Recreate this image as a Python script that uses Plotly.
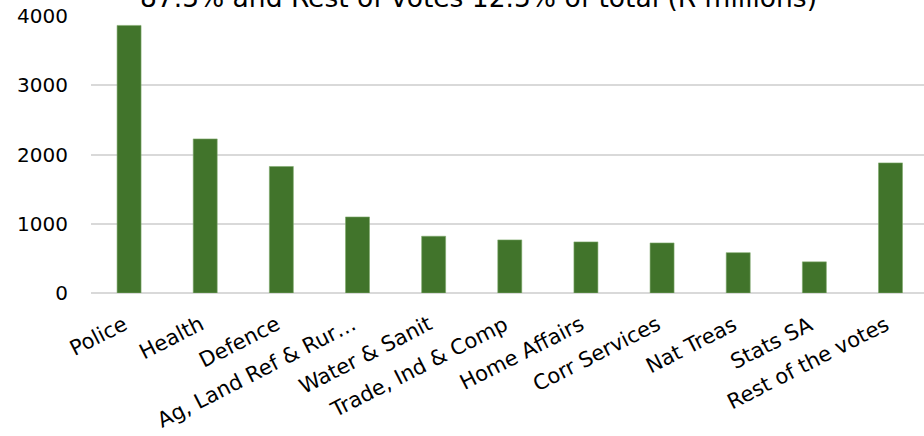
import plotly.graph_objects as go

categories = ["Police", "Health", "Defence", "Ag, Land Ref & Rur…", "Water & Sanit",
              "Trade, Ind & Comp", "Home Affairs", "Corr Services", "Nat Treas",
              "Stats SA", "Rest of the votes"]
values = [3864, 2225, 1827, 1098, 820, 767, 738, 723, 583, 450, 1879]
y_ticks = [0, 1000, 2000, 3000, 4000]
title_text = "87.5% and Rest of votes 12.5% of total (R millions)"

font_family = "DejaVu Sans, sans-serif"

fig = go.Figure(go.Bar(
    x=categories, y=values,
    marker=dict(color="#41742B", line=dict(color="#7FA96B", width=0.6)),
))

# category labels placed like Excel: top-right corner at the category position
label_annotations = [
    dict(text=c, x=c, xref="x", y=0, yref="paper",
         xanchor="right", yanchor="top", textangle=-27,
         xshift=5, yshift=-16, showarrow=False,
         font=dict(size=21, color="#000000", family=font_family))
    for c in categories
]

title_annotation = dict(
    text=title_text, xref="paper", yref="paper", x=0.4646, y=1,
    xanchor="center", yanchor="bottom", yshift=1, showarrow=False,
    font=dict(size=26.5, color="#000000", family=font_family),
)

fig.update_layout(
    width=924, height=436,
    margin=dict(l=91, r=0, t=16, b=143),
    paper_bgcolor="white", plot_bgcolor="white",
    bargap=0.685,
    showlegend=False,
    font=dict(family=font_family, color="#000000", size=20),
    xaxis=dict(
        range=[-0.5, 10.44],
        showgrid=False, showline=False, ticks="",
        showticklabels=False,
    ),
    yaxis=dict(
        range=[0, 4000],
        tickvals=y_ticks,
        ticktext=[str(v) for v in y_ticks],
        showgrid=True, gridcolor="#D9D9D9", gridwidth=1.5,
        zeroline=True, zerolinecolor="#D9D9D9", zerolinewidth=1.5,
        showline=False, ticks="",
        ticklabelstandoff=22,
        tickfont=dict(size=20, color="#000000"),
    ),
    annotations=label_annotations + [title_annotation],
)

fig.write_html("out.html")
